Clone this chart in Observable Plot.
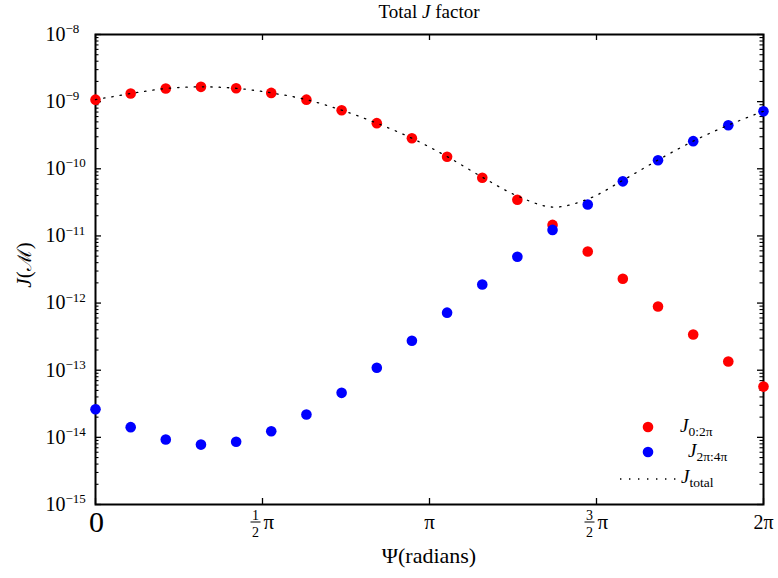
<!DOCTYPE html>
<html><head><meta charset="utf-8">
<script src="https://cdn.jsdelivr.net/npm/d3@7"></script>
<script src="https://cdn.jsdelivr.net/npm/@observablehq/plot@0.6"></script>
<style>body{margin:0;background:#fff} svg{display:block}</style>
</head><body><div id="chart"></div>
<script>
// Psi (radians), 20 samples from 0 to 2π
const psi = [0, 0.331, 0.661, 0.992, 1.323, 1.653, 1.984, 2.315, 2.646, 2.976, 3.307, 3.638, 3.968, 4.299, 4.630, 4.960, 5.291, 5.622, 5.952, 6.283];
// J_{0:2π} (red)
const j0to2pi = [1.07e-9, 1.32e-9, 1.57e-9, 1.66e-9, 1.58e-9, 1.35e-9, 1.07e-9, 7.46e-10, 4.78e-10, 2.85e-10, 1.51e-10, 7.34e-11, 3.45e-11, 1.46e-11, 5.86e-12, 2.30e-12, 8.9e-13, 3.40e-13, 1.35e-13, 5.7e-14];
// J_{2π:4π} (blue)
const j2to4pi = [2.62e-14, 1.42e-14, 9.3e-15, 7.8e-15, 8.6e-15, 1.23e-14, 2.19e-14, 4.6e-14, 1.09e-13, 2.74e-13, 7.2e-13, 1.89e-12, 4.9e-12, 1.23e-11, 2.94e-11, 6.5e-11, 1.34e-10, 2.58e-10, 4.46e-10, 7.2e-10];
// J_total (dotted)
const jTotal = [1.07e-9, 1.32e-9, 1.57e-9, 1.66e-9, 1.58e-9, 1.35e-9, 1.07e-9, 7.46e-10, 4.78e-10, 2.85e-10, 1.52e-10, 7.5e-11, 3.94e-11, 2.69e-11, 3.53e-11, 6.73e-11, 1.35e-10, 2.58e-10, 4.46e-10, 7.2e-10];

const xTickValues = [0, Math.PI / 2, Math.PI, 3 * Math.PI / 2, 2 * Math.PI];
const xTickLabels = ["0", "1/2π", "π", "3/2π", "2π"];
const yTickExponents = [-15, -14, -13, -12, -11, -10, -9, -8];
const yTickValues = yTickExponents.map(e => Math.pow(10, e));
const yMinorTicks = [];
for (const e of yTickExponents.slice(0, -1)) for (let m = 2; m <= 9; m++) yMinorTicks.push(m * Math.pow(10, e));

const redRows = psi.map((x, i) => ({x, y: j0to2pi[i]}));
const blueRows = psi.map((x, i) => ({x, y: j2to4pi[i]}));
const totalRows = psi.map((x, i) => ({x, y: jTotal[i]}));

const W = 778, H = 578, ML = 95, MR = 15, MT = 34, MB = 74;
const PW = W - ML - MR, PH = H - MT - MB;
const font = "'Liberation Serif', 'DejaVu Serif', serif";

const chart = Plot.plot({
  width: W, height: H,
  marginLeft: ML, marginRight: MR, marginTop: MT, marginBottom: MB,
  style: {fontFamily: font, background: "#fff", color: "black"},
  x: {domain: [0, 2 * Math.PI], label: null},
  y: {type: "log", domain: [1e-15, 1e-8], label: null},
  marks: [
    Plot.frame({stroke: "black", strokeWidth: 2}),
    Plot.tickY(yTickValues, {y: d => d, insetRight: PW - 6, stroke: "black", strokeWidth: 1.3}),
    Plot.tickY(yTickValues, {y: d => d, insetLeft: PW - 6, stroke: "black", strokeWidth: 1.3}),
    Plot.tickY(yMinorTicks, {y: d => d, insetRight: PW - 3.5, stroke: "black", strokeWidth: 1.1}),
    Plot.tickY(yMinorTicks, {y: d => d, insetLeft: PW - 3.5, stroke: "black", strokeWidth: 1.1}),
    Plot.tickX(xTickValues, {x: d => d, insetBottom: PH - 6, stroke: "black", strokeWidth: 1.3}),
    Plot.tickX(xTickValues, {x: d => d, insetTop: PH - 6, stroke: "black", strokeWidth: 1.3}),
    Plot.axisY(yTickValues, {tickSize: 0, tickPadding: 0, textAnchor: "start", dx: -50, fontSize: 20, label: null,
      tickFormat: d => "10^" + String(yTickExponents[yTickValues.indexOf(d)]).replace("-", "−")}),
    Plot.axisX(xTickValues, {tickSize: 0, tickPadding: 0, fontSize: 18, label: null,
      tickFormat: d => xTickLabels[xTickValues.indexOf(d)]}),
    Plot.dot(redRows, {x: "x", y: "y", r: 5.3, fill: "#ff0000"}),
    Plot.dot(blueRows, {x: "x", y: "y", r: 5.3, fill: "#0000ff"}),
    Plot.line(totalRows, {x: "x", y: "y", stroke: "black", strokeWidth: 1.3, strokeDasharray: "1.4 6.9", curve: "catmull-rom"})
  ]
});

const svg = d3.select(chart);
const xs = chart.scale("x");

// y tick labels: 10 with superscript exponent
svg.selectAll('g[aria-label="y-axis tick label"] text').each(function() {
  const t = this.textContent;
  const [base, exp] = t.split("^");
  const s = d3.select(this);
  s.text(base);
  s.append("tspan").attr("dy", "-0.6em").attr("font-size", "13px").text(exp);
});

// x tick labels
svg.selectAll('g[aria-label="x-axis tick label"] text').each(function(d, i) {
  const t = this.textContent;
  const cx = xs.apply(xTickValues[i]);
  const s = d3.select(this).attr("transform", null).attr("x", null).attr("y", null).attr("dy", null).attr("text-anchor", "start");
  s.text(null);
  const base = H - MB;
  if (t.includes("/")) {
    const num = t.split("/")[0], den = t.split("/")[1][0], sym = t.split("/")[1].slice(1);
    s.append("tspan").attr("x", cx - 7).attr("y", base + 15).attr("text-anchor", "middle").attr("font-size", 14).text(num);
    s.append("tspan").attr("x", cx - 7).attr("y", base + 32).attr("text-anchor", "middle").attr("font-size", 14).text(den);
    s.append("tspan").attr("x", cx + 1).attr("y", base + 24).attr("text-anchor", "start").attr("font-size", 21).text(sym);
    d3.select(this.parentNode).append("line").attr("x1", cx - 12).attr("x2", cx - 2)
      .attr("y1", base + 17.5).attr("y2", base + 17.5).attr("stroke", "black").attr("stroke-width", 1);
  } else if (t === "0") {
    s.append("tspan").attr("x", cx + 1).attr("y", base + 27).attr("text-anchor", "middle").attr("font-size", 30).text(t);
  } else {
    s.append("tspan").attr("x", cx).attr("y", base + 24).attr("text-anchor", "middle").attr("font-size", t === "π" ? 21 : 20).text(t);
  }
});

// Title
const title = svg.append("text").attr("x", ML + PW / 2).attr("y", 18).attr("text-anchor", "middle")
  .attr("font-size", 19).attr("font-family", font);
title.append("tspan").text("Total ");
title.append("tspan").attr("font-style", "italic").text("J");
title.append("tspan").text(" factor");

// X label
svg.append("text").attr("x", ML + PW / 2).attr("y", 563).attr("text-anchor", "middle")
  .attr("font-size", 22).attr("font-family", font).text("Ψ(radians)");

// Y label
const yl = svg.append("text").attr("transform", `translate(31,265) rotate(-90)`)
  .attr("text-anchor", "middle").attr("font-size", 21).attr("font-family", font);
yl.append("tspan").attr("font-style", "italic").text("J");
yl.append("tspan").text("(");
yl.append("tspan").attr("font-family", "'DejaVu Serif', serif").attr("font-size", 19).text("ℳ");
yl.append("tspan").text(")");

// Legend
const lg = svg.append("g").attr("font-family", font).attr("text-anchor", "start");
lg.append("circle").attr("cx", 648).attr("cy", 427).attr("r", 5.3).attr("fill", "#ff0000");
lg.append("circle").attr("cx", 648).attr("cy", 452).attr("r", 5.3).attr("fill", "#0000ff");
lg.append("line").attr("x1", 620).attr("x2", 676).attr("y1", 479).attr("y2", 479)
  .attr("stroke", "black").attr("stroke-width", 1.3).attr("stroke-dasharray", "1.4 7.6");
function legendText(x, y, sub) {
  const t = lg.append("text").attr("x", x).attr("y", y).attr("font-size", 19).attr("text-anchor", "start");
  t.append("tspan").attr("font-style", "italic").text("J");
  t.append("tspan").attr("dy", "0.3em").attr("font-size", 13.5).text(sub);
}
legendText(680, 432, "0:2π");
legendText(688, 457, "2π:4π");
legendText(681, 483, "total");

document.getElementById("chart").appendChild(chart);
</script>
</body></html>
